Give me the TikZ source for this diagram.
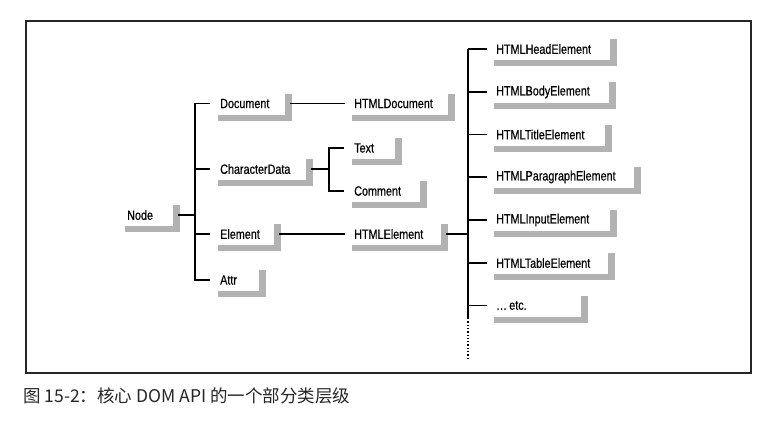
\documentclass[tikz,border=0pt]{standalone}
\usepackage{fontspec}
\setmainfont{Liberation Sans}
\newfontfamily\lblfont[FakeStretch=0.8,FakeBold=0.4]{Liberation Sans}
\newfontfamily\cjkfont{Noto Sans CJK SC}
\newcommand\mylab[5]{%
  \fill[gshadow] (#2-2,#4+11) rectangle (#3,#4+17);
  \fill[gshadow] (#3-7,#4-10) rectangle (#3,#4+17);
  \node[lbl] (#1) at (#2,#4) {#5};
  \coordinate (#1-r) at (#3-2,#4);
}
\begin{document}
\begin{tikzpicture}[x=1pt,y=-1pt,
  conn/.style={line width=1.3pt, black},
  gshadow/.style={fill=gray!60},
  lbl/.style={font=\lblfont\fontsize{13.5}{15}\selectfont, inner sep=0pt, anchor=west},
  captxt/.style={font=\cjkfont\fontsize{17.5}{20}\selectfont, inner sep=0pt, anchor=west, text=black!85}]
\useasboundingbox (0,0) rectangle (773,421);
\draw[line width=1.1pt, black!85] (26,21) rectangle (751,373);
% labels
\mylab{node}{127}{180}{215}{Node}
\mylab{doc}{220}{292}{103.5}{Document}
\mylab{cdata}{220}{313}{169}{CharacterData}
\mylab{elem}{220}{281}{234}{Element}
\mylab{attr}{220}{266}{280}{Attr}
\mylab{hdoc}{354}{455}{103.5}{HTMLDocument}
\mylab{text}{354}{402}{148}{Text}
\mylab{comm}{354}{427}{191}{Comment}
\mylab{hel}{354}{448}{234}{HTMLElement}
\mylab{head}{496}{617}{49}{HTMLHeadElement}
\mylab{body}{496}{616}{92}{HTMLBodyElement}
\mylab{title}{496}{612}{134.5}{HTMLTitleElement}
\mylab{para}{496}{641}{177}{HTMLParagraphElement}
\mylab{input}{496}{617}{220}{HTMLInputElement}
\mylab{table}{496}{615}{263}{HTMLTableElement}
\mylab{etc}{496}{588}{305.5}{\ldots\,etc.}
% junctions
\coordinate (jA) at (195,215);
\coordinate (jB) at (329,169);
\coordinate (jC) at (468,234);
\coordinate (rtop) at (468,49);
\coordinate (rsolid) at (468,318);
\coordinate (rdot) at (468,358);
% Node tree
\draw[conn] (node-r) -- (jA);
\draw[conn] ([xshift=-10pt]doc.west) -| (jA) |- ([xshift=-10pt]attr.west);
\draw[conn] ([xshift=-10pt]cdata.west) -- (cdata.west -| jA);
\draw[conn] ([xshift=-10pt]elem.west) -- (elem.west -| jA);
% Document -> HTMLDocument
\draw[conn] (doc-r) -- ([xshift=-9pt]hdoc.west);
% CharacterData branch
\draw[conn] (cdata-r) -- (jB);
\draw[conn] ([xshift=-10pt]text.west) -| (jB);
\draw[conn] ([xshift=-10pt]comm.west) -| (jB);
% Element -> HTMLElement
\draw[conn] (elem-r) -- ([xshift=-9pt]hel.west);
\draw[conn] (hel-r) -- (jC);
% right trunk
\draw[conn] (rtop) -- (rsolid);
\draw[conn, dotted] (rsolid) -- (rdot);
\foreach \n in {head,body,title,para,input,table,etc}{
  \draw[conn] (\n.west -| rtop) -- ([xshift=-9pt]\n.west);
}
% caption
\node[captxt] (caption) at (23,396) {图 15-2：核心 DOM API 的一个部分类层级};
\end{tikzpicture}
\end{document}
